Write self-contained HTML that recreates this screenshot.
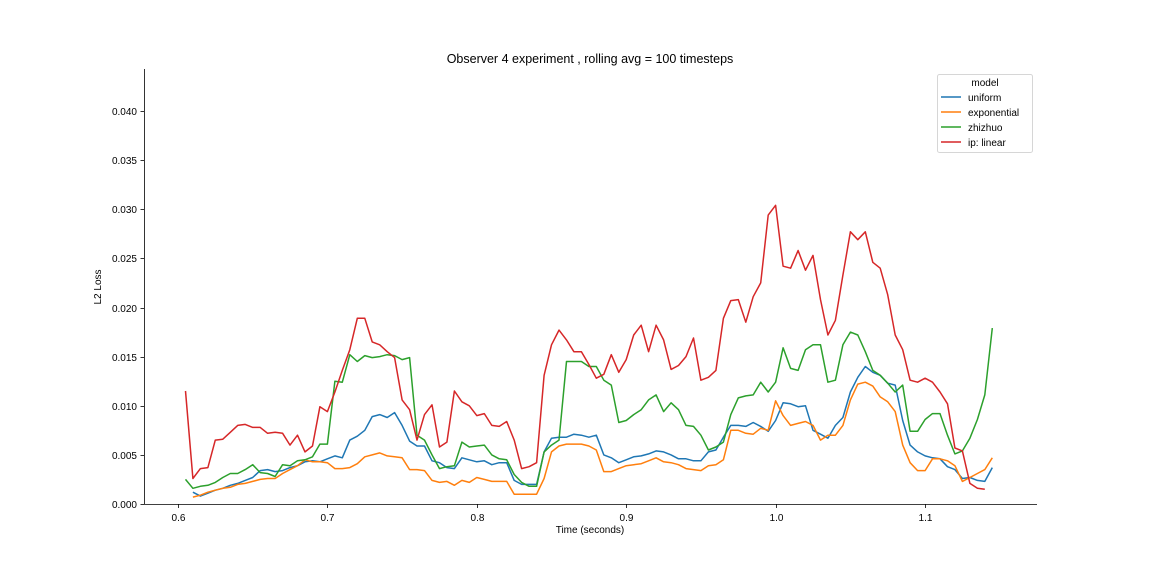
<!DOCTYPE html>
<html><head><meta charset="utf-8">
<style>
html,body{margin:0;padding:0;background:#fff;}
svg{display:block;font-family:"Liberation Sans","DejaVu Sans",sans-serif;}
</style></head>
<body>
<svg id="chart" width="1152" height="576" viewBox="0 0 1152 576" xmlns="http://www.w3.org/2000/svg">
<rect width="1152" height="576" fill="#fff"/>
<text x="590" y="63" text-anchor="middle" font-size="12.5" fill="#000">Observer 4 experiment , rolling avg = 100 timesteps</text>
<g id="grid-axes"></g>
<g id="series"></g>
<text x="590" y="533" text-anchor="middle" font-size="10" fill="#000">Time (seconds)</text>
<text transform="translate(101,287) rotate(-90)" text-anchor="middle" font-size="10" fill="#000">L2 Loss</text>
<g>
<rect x="937.5" y="74.5" width="95" height="78" rx="2" fill="#fff" stroke="#d6d6d6" stroke-width="1"/>
<text x="985" y="86" text-anchor="middle" font-size="10">model</text>
<g><line x1="941" y1="97" x2="961" y2="97" stroke="#1f77b4" stroke-width="1.5"/><text x="968" y="101" font-size="10">uniform</text></g>
<g><line x1="941" y1="112" x2="961" y2="112" stroke="#ff7f0e" stroke-width="1.5"/><text x="968" y="116" font-size="10">exponential</text></g>
<g><line x1="941" y1="127" x2="961" y2="127" stroke="#2ca02c" stroke-width="1.5"/><text x="968" y="131" font-size="10">zhizhuo</text></g>
<g><line x1="941" y1="142" x2="961" y2="142" stroke="#d62728" stroke-width="1.5"/><text x="968" y="146" font-size="10">ip: linear</text></g>
</g>
</svg>
<script>
// time grid (seconds)
const times = [0.605,0.610,0.615,0.620,0.625,0.630,0.635,0.640,0.645,0.650,0.655,0.660,0.665,0.670,0.675,0.680,0.685,0.690,0.695,0.700,0.705,0.710,0.715,0.720,0.725,0.730,0.735,0.740,0.745,0.750,0.755,0.760,0.765,0.770,0.775,0.780,0.785,0.790,0.795,0.800,0.805,0.810,0.815,0.820,0.825,0.830,0.835,0.840,0.845,0.850,0.855,0.860,0.865,0.870,0.875,0.880,0.885,0.890,0.895,0.900,0.905,0.910,0.915,0.920,0.925,0.930,0.935,0.940,0.945,0.950,0.955,0.960,0.965,0.970,0.975,0.980,0.985,0.990,0.995,1.000,1.005,1.010,1.015,1.020,1.025,1.030,1.035,1.040,1.045,1.050,1.055,1.060,1.065,1.070,1.075,1.080,1.085,1.090,1.095,1.100,1.105,1.110,1.115,1.120,1.125,1.130,1.135,1.140,1.145];
// values in units of 1e-3
const uniform = [null,1.2,0.8,1.1,1.4,1.6,1.9,2.1,2.4,2.7,3.4,3.5,3.3,3.4,3.7,3.9,4.3,4.4,4.3,4.6,4.9,4.7,6.5,6.9,7.5,8.9,9.1,8.8,9.3,8.0,6.4,5.9,5.9,4.4,4.2,3.7,3.6,4.7,4.5,4.3,4.4,4.0,4.2,4.2,2.4,2.0,2.0,2.0,5.3,6.7,6.8,6.8,7.1,7.0,6.8,7.0,5.0,4.7,4.2,4.5,4.8,4.9,5.1,5.4,5.3,5.0,4.6,4.6,4.4,4.4,5.3,5.5,6.8,8.0,8.0,7.9,8.3,7.9,7.4,8.5,10.3,10.2,9.9,10.0,7.5,7.1,6.7,8.0,8.8,11.4,12.9,14.0,13.4,13.1,12.3,12.1,8.5,6.0,5.3,4.9,4.7,4.6,3.8,3.5,2.6,2.7,2.4,2.3,3.7];
const exponential = [null,0.7,0.9,1.2,1.4,1.6,1.7,2.0,2.1,2.3,2.5,2.6,2.6,3.1,3.5,3.9,4.5,4.3,4.3,4.2,3.6,3.6,3.7,4.1,4.8,5.0,5.2,4.9,4.8,4.7,3.5,3.5,3.4,2.4,2.2,2.3,1.9,2.4,2.2,2.7,2.5,2.3,2.3,2.3,1.0,1.0,1.0,1.0,2.6,5.3,5.9,6.1,6.1,6.1,5.9,5.5,3.3,3.3,3.6,3.9,4.0,4.1,4.4,4.7,4.3,4.2,4.0,3.6,3.5,3.4,3.9,4.0,4.5,7.5,7.5,7.2,7.1,7.7,7.5,10.5,9.0,8.0,8.2,8.4,8.0,6.5,7.0,7.0,8.0,10.6,12.2,12.4,12.0,10.9,10.4,9.4,6.0,4.2,3.4,3.4,4.6,4.6,4.4,3.9,2.3,2.7,3.1,3.5,4.7];
const zhizhuo = [2.5,1.6,1.8,1.9,2.2,2.7,3.1,3.1,3.5,4.0,3.2,3.1,2.8,4.0,3.9,4.4,4.5,4.8,6.1,6.1,12.5,12.4,15.2,14.5,15.1,14.9,15.0,15.2,15.1,14.7,14.9,7.0,6.5,5.0,3.6,3.8,3.9,6.3,5.8,5.9,6.0,5.0,4.6,4.5,3.0,2.2,1.8,1.8,5.3,6.0,6.5,14.5,14.5,14.5,14.0,14.0,12.6,12.1,8.3,8.5,9.1,9.6,10.6,11.1,9.4,10.3,9.6,8.0,7.9,7.0,5.5,5.8,6.3,9.1,10.8,11.0,11.1,12.4,11.4,12.4,15.9,13.8,13.6,15.7,16.2,16.2,12.4,12.6,16.2,17.5,17.2,15.5,13.6,13.1,12.3,11.4,12.1,7.4,7.4,8.6,9.2,9.2,7.0,5.1,5.4,6.7,8.6,11.1,17.9];
const ipLinear = [11.5,2.6,3.6,3.7,6.5,6.6,7.3,8.0,8.1,7.8,7.8,7.2,7.3,7.2,6.0,7.0,5.3,5.9,9.9,9.4,11.4,13.6,15.7,18.9,18.9,16.5,16.2,15.5,14.9,10.6,9.6,6.5,9.1,10.1,5.8,6.3,11.5,10.4,10.0,9.0,9.2,8.0,7.9,8.4,6.5,3.6,3.8,4.2,13.1,16.2,17.7,16.7,15.5,15.5,14.2,12.8,13.2,15.2,13.4,14.7,17.2,18.2,15.5,18.2,16.7,13.7,14.1,15.0,16.9,12.6,12.9,13.6,18.9,20.7,20.8,18.5,21.1,22.5,29.4,30.4,24.2,24.0,25.8,23.8,25.3,20.8,17.2,18.7,23.3,27.7,26.9,27.7,24.6,24.0,21.3,17.2,15.7,12.6,12.4,12.8,12.4,11.4,10.2,5.7,5.4,2.1,1.6,1.5,null];
const yTicks = [0,0.005,0.010,0.015,0.020,0.025,0.030,0.035,0.040];
const yTickLabels = ["0.000","0.005","0.010","0.015","0.020","0.025","0.030","0.035","0.040"];
const xTicks = [0.6,0.7,0.8,0.9,1.0,1.1];
const xTickLabels = ["0.6","0.7","0.8","0.9","1.0","1.1"];

const NS = "http://www.w3.org/2000/svg";
const L = 144, R = 1037, T = 69, B = 504;
const xMin = 0.6 - 34/1495, xMax = 1.1 + 112/1495;
const yMin = 0, yMax = (B - T) / 9825;
const xs = t => L + (t - xMin) / (xMax - xMin) * (R - L);
const ys = v => B - (v - yMin) / (yMax - yMin) * (B - T);

const ga = document.getElementById('grid-axes');
function mk(tag, attrs, parent) {
  const e = document.createElementNS(NS, tag);
  for (const k in attrs) e.setAttribute(k, attrs[k]);
  parent.appendChild(e);
  return e;
}
const yAxis = mk('line', {x1:L+0.5, y1:T, x2:L+0.5, y2:B, stroke:'#000', 'stroke-width':0.8}, ga);


const xAxis = mk('line', {x1:L, y1:B+0.5, x2:R, y2:B+0.5, stroke:'#000', 'stroke-width':0.8}, ga);


yTicks.forEach((v, i) => {
  const y = Math.round(ys(v)) + 0.5;
  const tk = mk('line', {x1:L-3.5, y1:y, x2:L, y2:y, stroke:'#000', 'stroke-width':0.8}, ga);
  
  
  const tx = mk('text', {x:L-7, y:y+3.5, 'text-anchor':'end', 'font-size':10}, ga);
  tx.textContent = yTickLabels[i];
  
  
});
xTicks.forEach((t, i) => {
  const x = Math.round(xs(t)) + 0.5;
  const tk = mk('line', {x1:x, y1:B, x2:x, y2:B+4, stroke:'#000', 'stroke-width':0.8}, ga);
  
  
  const tx = mk('text', {x:x, y:B+17, 'text-anchor':'middle', 'font-size':10}, ga);
  tx.textContent = xTickLabels[i];
  
  
});

const sg = document.getElementById('series');
const seriesList = [
  ['uniform', uniform, '#1f77b4'],
  ['exponential', exponential, '#ff7f0e'],
  ['zhizhuo', zhizhuo, '#2ca02c'],
  ['ip-linear', ipLinear, '#d62728']
];
seriesList.forEach(([name, vals, color]) => {
  let d = '', pen = false;
  vals.forEach((v, i) => {
    if (v === null) { pen = false; return; }
    d += (pen ? 'L' : 'M') + xs(times[i]).toFixed(1) + ',' + ys(v * 0.001).toFixed(1);
    pen = true;
  });
  const p = mk('path', {d:d, fill:'none', stroke:color, 'stroke-width':1.5, 'stroke-linejoin':'round'}, sg);
  
  
});
</script>
</body></html>
